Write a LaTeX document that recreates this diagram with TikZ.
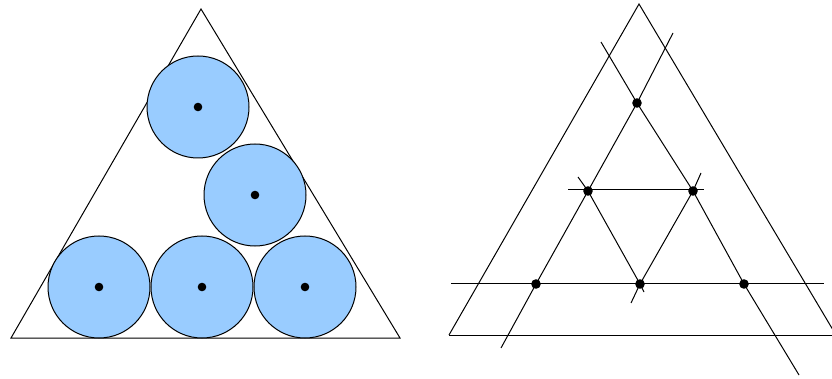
\documentclass[tikz,border=0pt]{standalone}
\usetikzlibrary{calc}
\definecolor{ballblue}{RGB}{153,204,255}
\begin{document}
\begin{tikzpicture}[x=1pt,y=-1pt,
  edge/.style={line width=1pt,black},
  ball/.style={draw=black,line width=1pt,fill=ballblue},
]
\useasboundingbox (0,0) rectangle (832,379);
% ---------- left figure ----------
\coordinate (LT) at (201,9);
\coordinate (LL) at (11,338);
\coordinate (LR) at (400,338);
\draw[edge] (LL) -- (LT) -- (LR) -- cycle;
\foreach \n/\x/\y in {c1/198/107, c2/255/195, c3/99/287, c4/202/287, c5/305/287}{
  \coordinate (\n) at (\x,\y);
  \draw[ball] (\n) circle (51);
  \fill (\n) circle (4.3);
}
% ---------- right figure ----------
\begin{scope}
\clip (416,0) rectangle (832,379);
\coordinate (RT) at (639,4);
\coordinate (RL) at (449,335);
\coordinate (RR) at (836,335);
\draw[edge] (RL) -- (RT) -- (RR);
\draw[edge] (RL) -- (RR);
% dots
\coordinate (A) at (637,103);
\coordinate (B) at (588,191);
\coordinate (C) at (693,191);
\coordinate (D) at (536,284);
\coordinate (E) at (640,284);
\coordinate (F) at (744,284);
% line endpoints
\coordinate (l1a) at (601,42);
\coordinate (l1b) at (799,375);
\coordinate (l2a) at (673,33);
\coordinate (l2b) at (501,348);
\coordinate (l3a) at (578,177);
\coordinate (l3b) at (644,292);
\coordinate (l4a) at (701,173);
\coordinate (l4b) at (631,303);
\coordinate (h1a) at (568,190);
\coordinate (h1b) at (704,190);
\coordinate (h2a) at (451,283);
\coordinate (h2b) at (824,283);
\draw[edge] (l1a) -- (A) -- (C) -- (F) -- (l1b);
\draw[edge] (l2a) -- (A) -- (B) -- (D) -- (l2b);
\draw[edge] (l3a) -- (B) -- (E) -- (l3b);
\draw[edge] (l4a) -- (C) -- (E) -- (l4b);
\draw[edge] (h1a) -- (h1b);
\draw[edge] (h2a) -- (h2b);
\foreach \p in {A,B,C,D,E,F}{\fill (\p) circle (4.8);}
\end{scope}
\end{tikzpicture}
\end{document}
